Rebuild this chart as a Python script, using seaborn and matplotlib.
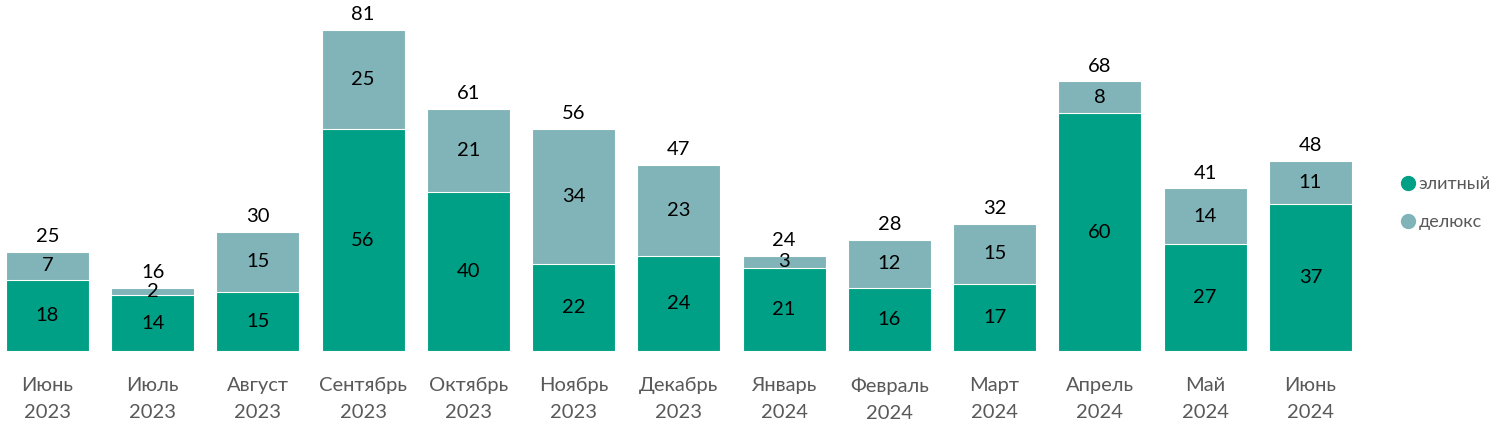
import numpy as np
import pandas as pd
import matplotlib
matplotlib.use("Agg")
import matplotlib.pyplot as plt
import seaborn as sns
from matplotlib.lines import Line2D

months = ["Июнь\n2023", "Июль\n2023", "Август\n2023", "Сентябрь\n2023", "Октябрь\n2023",
          "Ноябрь\n2023", "Декабрь\n2023", "Январь\n2024", "Февраль\n2024", "Март\n2024",
          "Апрель\n2024", "Май\n2024", "Июнь\n2024"]
elite  = [18, 14, 15, 56, 40, 22, 24, 21, 16, 17, 60, 27, 37]
deluxe = [7, 2, 15, 25, 21, 34, 23, 3, 12, 15, 8, 14, 11]

GREEN = "#00A086"
LIGHT = "#80B4B8"

df = pd.DataFrame({"month": months, "elite": elite, "deluxe": deluxe})
df["total"] = df["elite"] + df["deluxe"]

sns.set_theme(style="white")
plt.rcParams["font.family"] = ["Lato", "DejaVu Sans"]

fig = plt.figure(figsize=(15.03, 4.28), dpi=100)
ax = fig.add_axes([0.0, 0.18, 1363 / 1503, 0.787])

# stacked: total first (light), elite drawn over it
sns.barplot(data=df, x="month", y="total", color=LIGHT, saturation=1,
            width=0.79, edgecolor="white", linewidth=0.8, ax=ax)
sns.barplot(data=df, x="month", y="elite", color=GREEN, saturation=1,
            width=0.79, edgecolor="white", linewidth=0.8, ax=ax)

for i, row in df.iterrows():
    ax.text(i, row["elite"] / 2, str(row["elite"]), ha="center", va="center",
            fontsize=14.5, color="black")
    ax.text(i, row["elite"] + row["deluxe"] / 2, str(row["deluxe"]), ha="center",
            va="center", fontsize=14.5, color="black")
    ax.annotate(str(row["total"]), (i, row["total"]), xytext=(0, 5),
                textcoords="offset points", ha="center", va="bottom",
                fontsize=14.5, color="black")

ax.set_xlim(-0.45, 12.5)
ax.set_ylim(0, 85)
ax.set_xlabel("")
ax.set_ylabel("")
ax.set_yticks([])
ax.tick_params(axis="x", length=0, pad=19, labelsize=14.5, labelcolor="#595959")
for lbl in ax.get_xticklabels():
    lbl.set_linespacing(1.7)
sns.despine(ax=ax, left=True, bottom=True)

handles = [
    Line2D([0], [0], marker="o", color="none", markerfacecolor=GREEN,
           markeredgecolor=GREEN, markersize=10, label="элитный"),
    Line2D([0], [0], marker="o", color="none", markerfacecolor=LIGHT,
           markeredgecolor=LIGHT, markersize=10, label="делюкс"),
]
fig.legend(handles=handles, loc="center left", bbox_to_anchor=(0.92, 0.525),
           frameon=False, fontsize=13, handletextpad=0.1, labelspacing=1.2,
           handlelength=1.0, labelcolor="#595959")

fig.savefig("out.png", dpi=100)
